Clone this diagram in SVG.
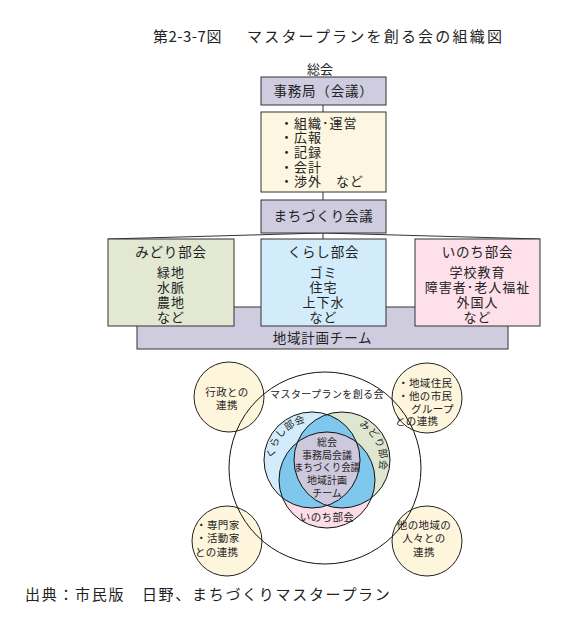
<svg xmlns="http://www.w3.org/2000/svg" width="573" height="628" viewBox="0 0 573 628">
<defs>
<style>
text{font-family:"Noto Sans CJK JP","Noto Sans CJK SC",sans-serif;fill:#222}
.b{stroke:#333;stroke-width:1}
.lav{fill:#cfcce0}
.t14{font-size:13.5px;letter-spacing:0.8px}
.t13{font-size:13px;letter-spacing:1px}
.t11{font-size:10.5px;letter-spacing:0.4px}
.t10{font-size:10px;letter-spacing:0.4px}
.c{text-anchor:middle}
.ln{stroke:#333;stroke-width:1;fill:none}
.yc{fill:#fdf5dc;stroke:#222;stroke-width:1}
</style>
<clipPath id="cB"><circle cx="312" cy="460" r="48"/></clipPath>
<clipPath id="cG"><circle cx="342" cy="460" r="48"/></clipPath>
<path id="arcK" d="M274 458.7 A38 38 0 0 1 318.6 422.6"/>
<path id="arcM" d="M358.7 425.9 A38 38 0 0 1 377.7 473"/>
</defs>
<rect width="573" height="628" fill="#fff"/>
<text x="153" y="42" font-size="15" letter-spacing="0.5">第2-3-7図</text>
<text x="247" y="42" font-size="15" letter-spacing="2.2">マスタープランを創る会の組織図</text>

<g id="connectors">
<line class="ln" x1="323" y1="105" x2="323" y2="112"/>
<line class="ln" x1="323" y1="192" x2="323" y2="200"/>
<line class="ln" x1="323" y1="233" x2="108" y2="239"/>
<line class="ln" x1="323" y1="233" x2="540" y2="239"/>
<line class="ln" x1="323" y1="233" x2="323" y2="239"/>
</g>

<g id="soukai"><text class="c" x="320" y="74" font-size="13">総会</text></g>
<g id="jimukyoku">
<rect class="b lav" x="261" y="77" width="125" height="28"/>
<text class="c t14" x="323.5" y="96">事務局（会議）</text>
</g>
<g id="tasks">
<rect class="b" fill="#fdf7e1" x="261" y="112" width="125" height="80"/>
<text class="t13" x="280" y="128">・組織･運営</text>
<text class="t13" x="280" y="142">・広報</text>
<text class="t13" x="280" y="157">・記録</text>
<text class="t13" x="280" y="172">・会計</text>
<text class="t13" x="280" y="186">・渉外　など</text>
</g>
<g id="machizukuri">
<rect class="b lav" x="261" y="200" width="125" height="33"/>
<text class="c t14" x="323.5" y="221">まちづくり会議</text>
</g>
<g id="chiiki-team">
<rect class="b lav" x="137" y="307" width="371" height="42"/>
<text class="c t14" x="322.5" y="343">地域計画チーム</text>
</g>
<g id="midori">
<rect class="b" fill="#e2e8d2" x="108" y="239" width="126" height="87"/>
<text class="c t14" x="171" y="257">みどり部会</text>
<text class="c t13" x="171" y="277">緑地</text>
<text class="c t13" x="171" y="292">水脈</text>
<text class="c t13" x="171" y="307">農地</text>
<text class="c t13" x="171" y="322">など</text>
</g>
<g id="kurashi">
<rect class="b" fill="#d3ecfb" x="261" y="239" width="125" height="87"/>
<text class="c t14" x="323.5" y="257">くらし部会</text>
<text class="c t13" x="323.5" y="277">ゴミ</text>
<text class="c t13" x="323.5" y="292">住宅</text>
<text class="c t13" x="323.5" y="307">上下水</text>
<text class="c t13" x="323.5" y="322">など</text>
</g>
<g id="inochi">
<rect class="b" fill="#fde0ea" x="415" y="239" width="125" height="87"/>
<text class="c t14" x="477.5" y="257">いのち部会</text>
<text class="c t13" x="477.5" y="277">学校教育</text>
<text class="c t13" x="477.5" y="292">障害者･老人福祉</text>
<text class="c t13" x="477.5" y="307">外国人</text>
<text class="c t13" x="477.5" y="322">など</text>
</g>

<g id="gyosei">
<circle class="yc" cx="229" cy="397" r="35"/>
<text class="c t11" x="227" y="396">行政との</text>
<text class="c t11" x="227" y="409">連携</text>
</g>
<g id="juumin">
<circle class="yc" cx="427" cy="398" r="35"/>
<text class="t11" x="398" y="387">・地域住民</text>
<text class="t11" x="398" y="400">・他の市民</text>
<text class="t11" x="411" y="413">グループ</text>
<text class="t11" x="395" y="425">との連携</text>
</g>
<g id="senmonka">
<circle class="yc" cx="227" cy="541" r="35"/>
<text class="t11" x="196" y="529">・専門家</text>
<text class="t11" x="196" y="542">・活動家</text>
<text class="t11" x="195" y="556">との連携</text>
</g>
<g id="tanochiiki">
<circle class="yc" cx="427" cy="541" r="35"/>
<text class="c t11" x="424" y="529">他の地域の</text>
<text class="c t11" x="424" y="542">人々との</text>
<text class="c t11" x="424" y="556">連携</text>
</g>

<g id="masterplan-kai">
<circle cx="325" cy="468" r="96" fill="none" stroke="#111" stroke-width="1"/>
<text class="c t10" x="327" y="398">マスタープランを創る会</text>
</g>

<g id="venn">
<circle cx="312" cy="460" r="48" fill="#d3ecfb"/>
<circle cx="342" cy="460" r="48" fill="#dfe6d0"/>
<circle cx="327" cy="480" r="48" fill="#fcdce6"/>
<g clip-path="url(#cB)"><circle cx="342" cy="460" r="48" fill="#7fc7ec"/><circle cx="327" cy="480" r="48" fill="#7fc7ec"/></g>
<g clip-path="url(#cG)"><circle cx="327" cy="480" r="48" fill="#7fc7ec"/></g>
<g clip-path="url(#cB)"><g clip-path="url(#cG)"><circle cx="327" cy="480" r="48" fill="#cdc8dc"/></g></g>
<circle cx="312" cy="460" r="48" fill="none" stroke="#111"/>
<circle cx="342" cy="460" r="48" fill="none" stroke="#111"/>
<circle cx="327" cy="480" r="48" fill="none" stroke="#111"/>
<text class="t10"><textPath href="#arcK">くらし部会</textPath></text>
<text class="t10"><textPath href="#arcM">みどり部会</textPath></text>
<text class="c t11" x="327" y="521">いのち部会</text>
<text class="c" font-size="10" x="327" y="446">総会</text>
<text class="c" font-size="10" x="327" y="459">事務局会議</text>
<text class="c" font-size="10" x="327" y="471" textLength="66" lengthAdjust="spacingAndGlyphs">まちづくり会議</text>
<text class="c" font-size="10" x="327" y="484">地域計画</text>
<text class="c" font-size="10" x="327" y="497">チーム</text>
</g>

<text x="25" y="600" font-size="15" letter-spacing="1.7">出典：市民版　日野、まちづくりマスタープラン</text>
</svg>
